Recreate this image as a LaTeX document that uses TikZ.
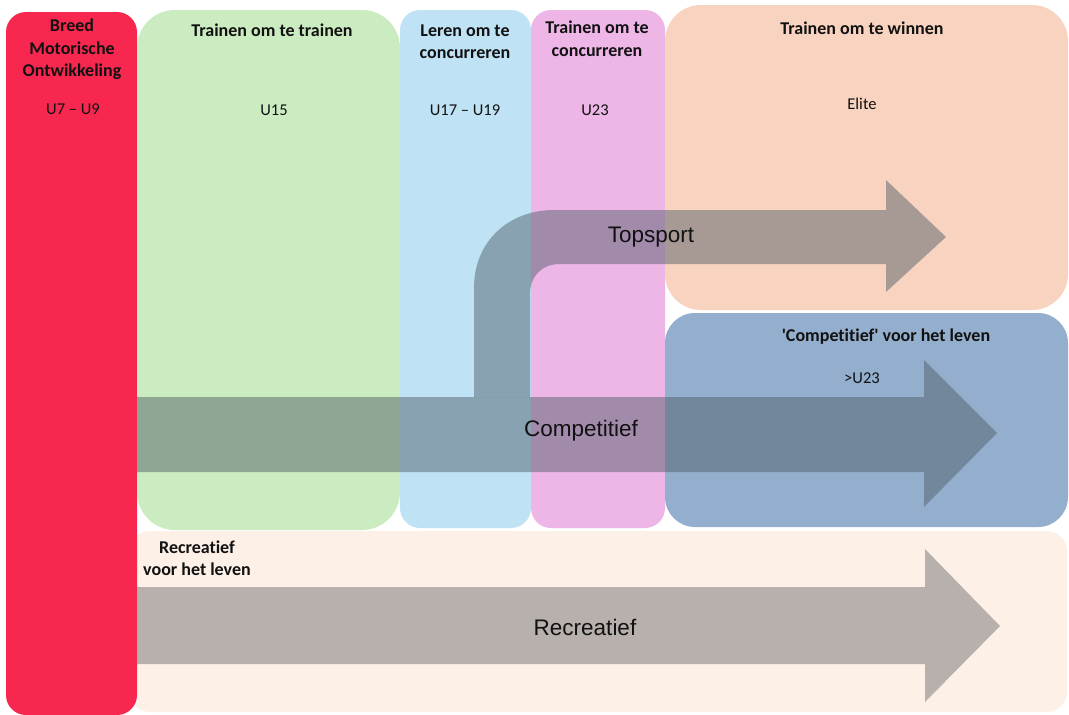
\documentclass[tikz,border=0pt]{standalone}
\usepackage{fontspec}
\setmainfont{Carlito}[Ligatures={NoCommon}]
\newfontfamily\arrowfont{Liberation Sans}
\definecolor{cRed}{HTML}{F7274F}
\definecolor{cGreen}{HTML}{CBEBC0}
\definecolor{cLBlue}{HTML}{BFE3F4}
\definecolor{cPink}{HTML}{EDB6E7}
\definecolor{cPeach}{HTML}{F8D4C0}
\definecolor{cDBlue}{HTML}{94AFCD}
\definecolor{cCream}{HTML}{FDF0E7}
\definecolor{cArrow}{HTML}{505C68}
\definecolor{cRecr}{HTML}{B8B0AD}
\definecolor{cText}{HTML}{111111}
\tikzset{
  head/.style={text=cText, font=\bfseries\fontsize{18}{22.5}\selectfont, align=center, inner sep=0pt},
  lab/.style={text=cText, font=\fontsize{16.5}{20}\selectfont, inner sep=0pt},
  arrlab/.style={text=cText, font=\arrowfont\fontsize{22.5}{26}\selectfont, inner sep=0pt},
  transarrow/.style={fill=cArrow, fill opacity=0.48},
}
\begin{document}
\begin{tikzpicture}[x=1pt,y=-1pt]
\useasboundingbox (0,0) rectangle (1069,715);
\fill[white] (0,0) rectangle (1069,715);
% boxes
\fill[cCream, rounded corners=20pt] (130,531) rectangle (1067,712);
\fill[cRed, rounded corners=20pt] (6,12) rectangle (137,715);
\fill[cGreen, rounded corners=38pt] (137,10) rectangle (400,530);
\fill[cLBlue, rounded corners=20pt] (400,10) rectangle (531,528);
\fill[cPink, rounded corners=20pt] (531,10) rectangle (665,528);
\fill[cPeach, rounded corners=36pt] (665,5) rectangle (1068,310);
\fill[cDBlue, rounded corners=30pt] (665,313) rectangle (1068,527);
% arrows
\fill[transarrow] (474,397) -- (474,288) .. controls (474,240) and (510,210) .. (554,210)
  -- (886,210) -- (886,180) -- (946,237) -- (886,292) -- (886,264) -- (560,264)
  .. controls (542,264) and (530,276) .. (530,294) -- (530,397) -- cycle;
\fill[transarrow] (137,397) -- (924,397) -- (924,360) -- (997,433) -- (924,507) -- (924,472) -- (137,472) -- cycle;
\fill[cRecr] (137,587) -- (925,587) -- (925,549) -- (1000,626) -- (925,702) -- (925,664) -- (137,664) -- cycle;
% headings
\node[head] (h1) at (72,49.5) {Breed\\Motorische\\Ontwikkeling};
\node[head] (h2) at (272,30) {Trainen om te trainen};
\node[head] (h3) at (465,41.5) {Leren om te\\concurreren};
\node[head] (h4) at (597,38.5) {Trainen om te\\concurreren};
\node[head] (h5) at (862,28) {Trainen om te winnen};
\node[head] (h6) at (886,337) {\textquotesingle Competitief\textquotesingle{} voor het leven};
\node[head] (h7) at (197,558) {Recreatief\\voor het leven};
% labels
\node[lab] (l1) at (73,109) {U7 – U9};
\node[lab] (l2) at (274,110) {U15};
\node[lab] (l3) at (465,110) {U17 – U19};
\node[lab] (l4) at (595,110) {U23};
\node[lab] (l5) at (862,104) {Elite};
\node[lab] (l6) at (862,378) {>U23};
% arrow labels
\node[arrlab] (a1) at (651,237) {Topsport};
\node[arrlab] (a2) at (581,431) {Competitief};
\node[arrlab] (a3) at (585,627) {Recreatief};
\end{tikzpicture}
\end{document}
